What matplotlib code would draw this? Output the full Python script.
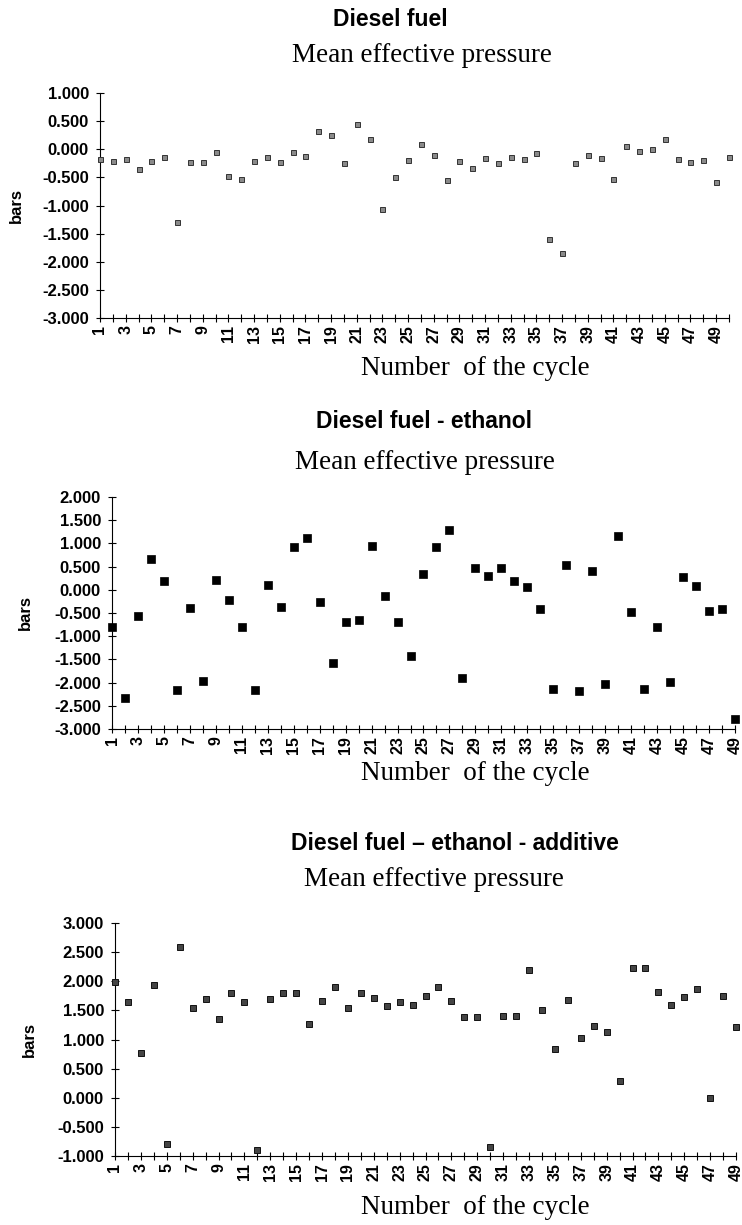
import numpy as np
import matplotlib
matplotlib.use('Agg')
import matplotlib.pyplot as plt
from matplotlib.ticker import FormatStrFormatter, MultipleLocator

# Mean effective pressure per cycle (bars)
diesel = [-0.18, -0.21, -0.18, -0.35, -0.21, -0.14, -1.29, -0.22, -0.22, -0.05,
          -0.48, -0.52, -0.21, -0.14, -0.22, -0.05, -0.12, 0.33, 0.25, -0.25,
          0.45, 0.19, -1.06, -0.49, -0.19, 0.09, -0.11, -0.55, -0.20, -0.34,
          -0.16, -0.24, -0.14, -0.18, -0.07, -1.59, -1.85, -0.24, -0.10, -0.15,
          -0.53, 0.05, -0.03, 0.00, 0.18, -0.18, -0.22, -0.19, -0.59, -0.13]

ethanol = [-0.80, -2.33, -0.56, 0.66, 0.19, -2.15, -0.40, -1.96, 0.21, -0.21,
           -0.81, -2.17, 0.11, -0.37, 0.92, 1.12, -0.27, -1.58, -0.69, -0.65,
           0.95, -0.13, -0.69, -1.43, 0.35, 0.92, 1.28, -1.91, 0.46, 0.30,
           0.48, 0.19, 0.07, -0.42, -2.14, 0.54, -2.18, 0.41, -2.02, 1.15,
           -0.48, -2.13, -0.81, -1.99, 0.27, 0.09, -0.46, -0.41, -2.79]

additive = [1.99, 1.65, 0.77, 1.93, -0.80, 2.58, 1.54, 1.70, 1.35, 1.80,
            1.64, -0.90, 1.70, 1.79, 1.79, 1.27, 1.66, 1.90, 1.54, 1.79,
            1.71, 1.58, 1.65, 1.60, 1.75, 1.90, 1.66, 1.38, 1.38, -0.84,
            1.41, 1.40, 2.20, 1.50, 0.83, 1.67, 1.02, 1.23, 1.13, 0.28,
            2.23, 2.22, 1.82, 1.60, 1.73, 1.86, 0.00, 1.74, 1.22]

titles = ['Diesel fuel', 'Diesel fuel - ethanol', 'Diesel fuel \u2013 ethanol - additive']
ylims = [(-3, 1), (-3, 2), (-1, 3)]

W, H = 742, 1225
fig = plt.figure(figsize=(W / 100, H / 100), dpi=100)

# pixel boxes: left, right, top, bottom of each plot area
boxes = [(100, 729, 93, 318), (112, 735, 497, 729), (115, 736, 923, 1156)]
title_y = [20, 422, 843]
sub_y = [55, 462, 880]
xlab_y = [368, 774, 1208]
title_x = [390, 424, 455]
sub_x = [422, 425, 434]
bars_x = [24, 33, 37]
styles = [dict(ms=3.6, mfc='#8a8a8a', mec='#333333', mew=0.7),
          dict(ms=5.2, mfc='black', mec='black', mew=0.5),
          dict(ms=3.8, mfc='#444444', mec='#111111', mew=0.7)]

for i, vals in enumerate([diesel, ethanol, additive]):
    l, r, t, b = boxes[i]
    ax = fig.add_axes([l / W, 1 - b / H, (r - l) / W, (b - t) / H])
    cycles = np.arange(1, len(vals) + 1)
    ax.plot(cycles, vals, 's', linestyle='none', clip_on=False, zorder=3, **styles[i])
    ax.set_xlim(1, len(vals))
    ax.set_ylim(*ylims[i])
    ax.yaxis.set_major_locator(MultipleLocator(0.5))
    ax.yaxis.set_major_formatter(FormatStrFormatter('%.3f'))
    ax.set_xticks(cycles)
    ax.set_xticklabels([str(c) if c % 2 == 1 else '' for c in cycles],
                       rotation=90, fontsize=11.5, fontweight='bold', family='Liberation Sans')
    for lab in ax.get_yticklabels():
        lab.set_fontsize(12)
        lab.set_fontweight('bold')
        lab.set_family('Liberation Sans')
    ax.tick_params(axis='both', direction='inout', length=6, width=0.8, pad=2)
    ax.tick_params(axis='y', pad=5)
    ax.spines['top'].set_visible(False)
    ax.spines['right'].set_visible(False)
    ax.patch.set_alpha(0)
    ax.set_ylabel('bars', fontsize=12, fontweight='bold', family='Liberation Sans')
    ax.yaxis.set_label_coords((bars_x[i] - l) / (r - l), 0.5)

    fig.text(title_x[i] / W, 1 - title_y[i] / H, titles[i], ha='center', va='center',
             fontsize=16.5, fontweight='bold', family='Liberation Sans')
    fig.text(sub_x[i] / W, 1 - sub_y[i] / H, 'Mean effective pressure', ha='center',
             va='center', fontsize=19.5, family='Liberation Serif')
    fig.text(475 / W, 1 - xlab_y[i] / H, 'Number  of the cycle', ha='center',
             va='center', fontsize=19.5, family='Liberation Serif')

fig.savefig('out.png', dpi=100)
